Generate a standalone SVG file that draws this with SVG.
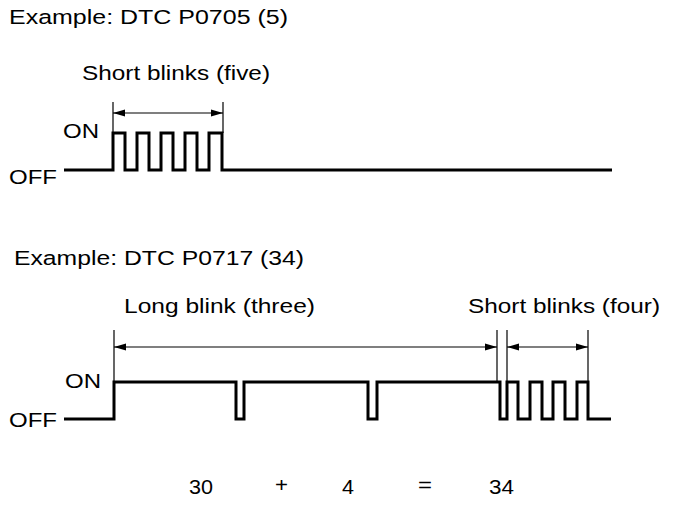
<svg xmlns="http://www.w3.org/2000/svg" width="688" height="506" viewBox="0 0 688 506">
<style>
text{font-family:"Liberation Sans",Arial,sans-serif;font-size:20.5px;fill:#000}
.wave{fill:none;stroke:#000;stroke-width:3;stroke-linejoin:miter}
.ext{fill:none;stroke:#000;stroke-width:1.2}
.dim{fill:none;stroke:#000;stroke-width:1.2;marker-start:url(#ah);marker-end:url(#ah)}
</style>
<defs>
<marker id="ah" viewBox="0 0 12 8" refX="12" refY="4" markerWidth="12" markerHeight="8" markerUnits="userSpaceOnUse" orient="auto-start-reverse">
<path d="M0,0.5 L12,4 L0,7.5 Z" fill="#000"/>
</marker>
</defs>
<rect width="688" height="506" fill="#fff"/>
<g id="titles">
<text x="9" y="24" textLength="279" lengthAdjust="spacingAndGlyphs">Example: DTC P0705 (5)</text>
<text x="14" y="265" textLength="290" lengthAdjust="spacingAndGlyphs">Example: DTC P0717 (34)</text>
</g>
<g id="example1">
<text x="82" y="80" textLength="188" lengthAdjust="spacingAndGlyphs">Short blinks (five)</text>
<text x="63" y="138" textLength="36" lengthAdjust="spacingAndGlyphs">ON</text>
<text x="9" y="184" textLength="48" lengthAdjust="spacingAndGlyphs">OFF</text>
<path class="wave" d="M64,170 H113 V133 H125 V170 H137 V133 H149 V170 H161 V133 H173 V170 H185 V133 H197 V170 H209 V133 H222 V170 H612"/>
</g>
<g id="example2">
<text x="124" y="313" textLength="191" lengthAdjust="spacingAndGlyphs">Long blink (three)</text>
<text x="468" y="313" textLength="192" lengthAdjust="spacingAndGlyphs">Short blinks (four)</text>
<text x="65" y="388" textLength="36" lengthAdjust="spacingAndGlyphs">ON</text>
<text x="9" y="427" textLength="48" lengthAdjust="spacingAndGlyphs">OFF</text>
<path class="wave" d="M64,419 H114 V382 H236 V419 H244 V382 H368 V419 H377 V382 H500 V419 H507 V382 H518 V419 H530 V382 H542 V419 H553 V382 H565 V419 H577 V382 H588 V419 H611"/>
</g>
<g id="sum">
<text x="189" y="494" textLength="24" lengthAdjust="spacingAndGlyphs">30</text>
<text x="275" y="492" textLength="13" lengthAdjust="spacingAndGlyphs">+</text>
<text x="342" y="494" textLength="12" lengthAdjust="spacingAndGlyphs">4</text>
<text x="418" y="492" textLength="14" lengthAdjust="spacingAndGlyphs">=</text>
<text x="489" y="494" textLength="25" lengthAdjust="spacingAndGlyphs">34</text>
</g>
<g id="connectors">
<line class="ext" x1="113" y1="102" x2="113" y2="133"/>
<line class="ext" x1="223" y1="102" x2="223" y2="133"/>
<line class="dim" x1="113" y1="113" x2="223" y2="113"/>
<line class="ext" x1="114" y1="330" x2="114" y2="382"/>
<line class="ext" x1="497" y1="330" x2="497" y2="382"/>
<line class="ext" x1="507" y1="330" x2="507" y2="382"/>
<line class="ext" x1="588" y1="330" x2="588" y2="382"/>
<line class="dim" x1="114" y1="347" x2="497" y2="347"/>
<line class="dim" x1="507" y1="347" x2="588" y2="347"/>
</g>
</svg>
